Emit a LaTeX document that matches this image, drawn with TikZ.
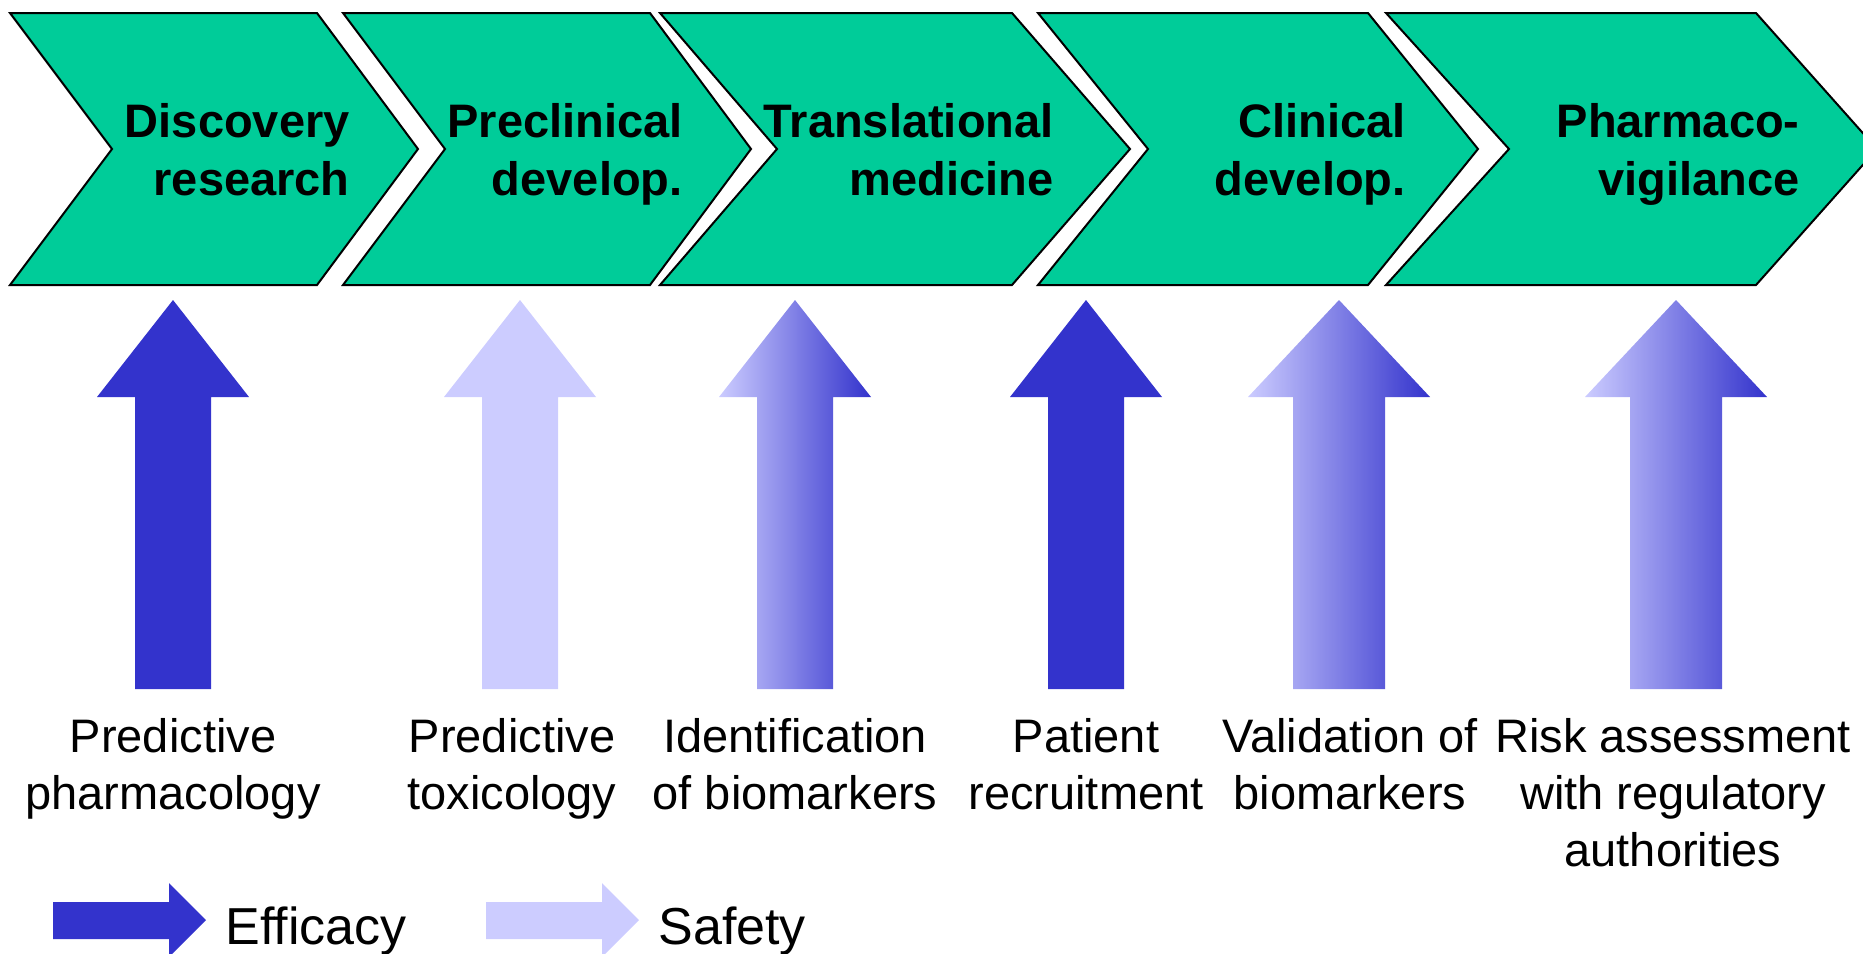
\documentclass[tikz,border=0pt]{standalone}
\usepackage{fontspec}
\setmainfont{Liberation Sans}
\definecolor{stagegreen}{RGB}{0,204,153}
\definecolor{efficacy}{RGB}{51,51,204}
\definecolor{safety}{RGB}{204,204,255}
\tikzstyle{stage}=[draw=black, fill=stagegreen, line width=1pt, line join=miter]
\tikzstyle{stagetext}=[anchor=base east, align=right, inner sep=0pt, font=\bfseries\fontsize{23.5}{29}\selectfont]
\tikzstyle{bottomtext}=[anchor=base, align=center, inner sep=0pt, font=\fontsize{23.5}{28.5}\selectfont]
\tikzstyle{keytext}=[anchor=base west, inner sep=0pt, font=\fontsize{26}{31}\selectfont]
\tikzstyle{effarrow}=[fill=efficacy]
\tikzstyle{safarrow}=[fill=safety]
\tikzstyle{mixarrow}=[left color=safety, right color=efficacy]
% block arrow pointing up: style, centre x, shaft half width, head half width
\newcommand{\blockup}[4]{%
  \path[#1] (#2-#3,689) -- (#2-#3,397) -- (#2-#4,397) -- (#2,300)
    -- (#2+#4,397) -- (#2+#3,397) -- (#2+#3,689) -- cycle;}

\begin{document}
\begin{tikzpicture}[x=0.5pt, y=-0.5pt]
    \useasboundingbox (0,0) rectangle (1863,953);
    \clip (0,0) rectangle (1863,953);
    % stages
    \path[stage] (10,13) -- (317,13) -- (418,149) -- (317,285) -- (10,285) -- (112,149) -- cycle;
    \path[stage] (343,13) -- (650,13) -- (751,149) -- (650,285) -- (343,285) -- (445,149) -- cycle;
    \path[stage] (660,13) -- (1012,13) -- (1130,149) -- (1012,285) -- (660,285) -- (777,149) -- cycle;
    \path[stage] (1038,13) -- (1368,13) -- (1478,149) -- (1368,285) -- (1038,285) -- (1148,149) -- cycle;
    \path[stage] (1386,13) -- (1756,13) -- (1877,149) -- (1756,285) -- (1386,285) -- (1509,149) -- cycle;
    \node[stagetext] (disc)   at (350,195)  {Discovery\\research};
    \node[stagetext] (precl)  at (683,195)  {Preclinical\\develop.};
    \node[stagetext] (transl) at (1054,195) {Translational\\medicine};
    \node[stagetext] (clin)   at (1406,195) {Clinical\\develop.};
    \node[stagetext] (pharm)  at (1800,195) {Pharmaco-\\vigilance};
    % arrows
    \blockup{effarrow}{173}{38}{76}
    \blockup{safarrow}{520}{38}{76}
    \blockup{mixarrow}{795}{38}{76}
    \blockup{effarrow}{1086}{38}{76}
    \blockup{mixarrow}{1339}{46}{91}
    \blockup{mixarrow}{1676}{46}{91}
    \node[bottomtext] (predpharm) at (173,809)  {Predictive\\pharmacology};
    \node[bottomtext] (predtox)   at (512,809)  {Predictive\\toxicology};
    \node[bottomtext] (identbio)  at (795,809)  {Identification\\of biomarkers};
    \node[bottomtext] (patrec)    at (1086,809) {Patient\\recruitment};
    \node[bottomtext] (valbio)    at (1350,809) {Validation of\\biomarkers};
    \node[bottomtext] (riskreg)   at (1673,866) {Risk assessment\\with regulatory\\authorities};
    % legend
    \path[effarrow] (53,902) -- (169,902) -- (169,883) -- (206,920) -- (169,957) -- (169,939) -- (53,939) -- cycle;
    \path[safarrow] (486,902) -- (602,902) -- (602,883) -- (639,920) -- (602,957) -- (602,939) -- (486,939) -- cycle;
    \node[keytext] (efftext) at (225,944) {Efficacy};
    \node[keytext] (saftext) at (658,944) {Safety};
\end{tikzpicture}
\end{document}
